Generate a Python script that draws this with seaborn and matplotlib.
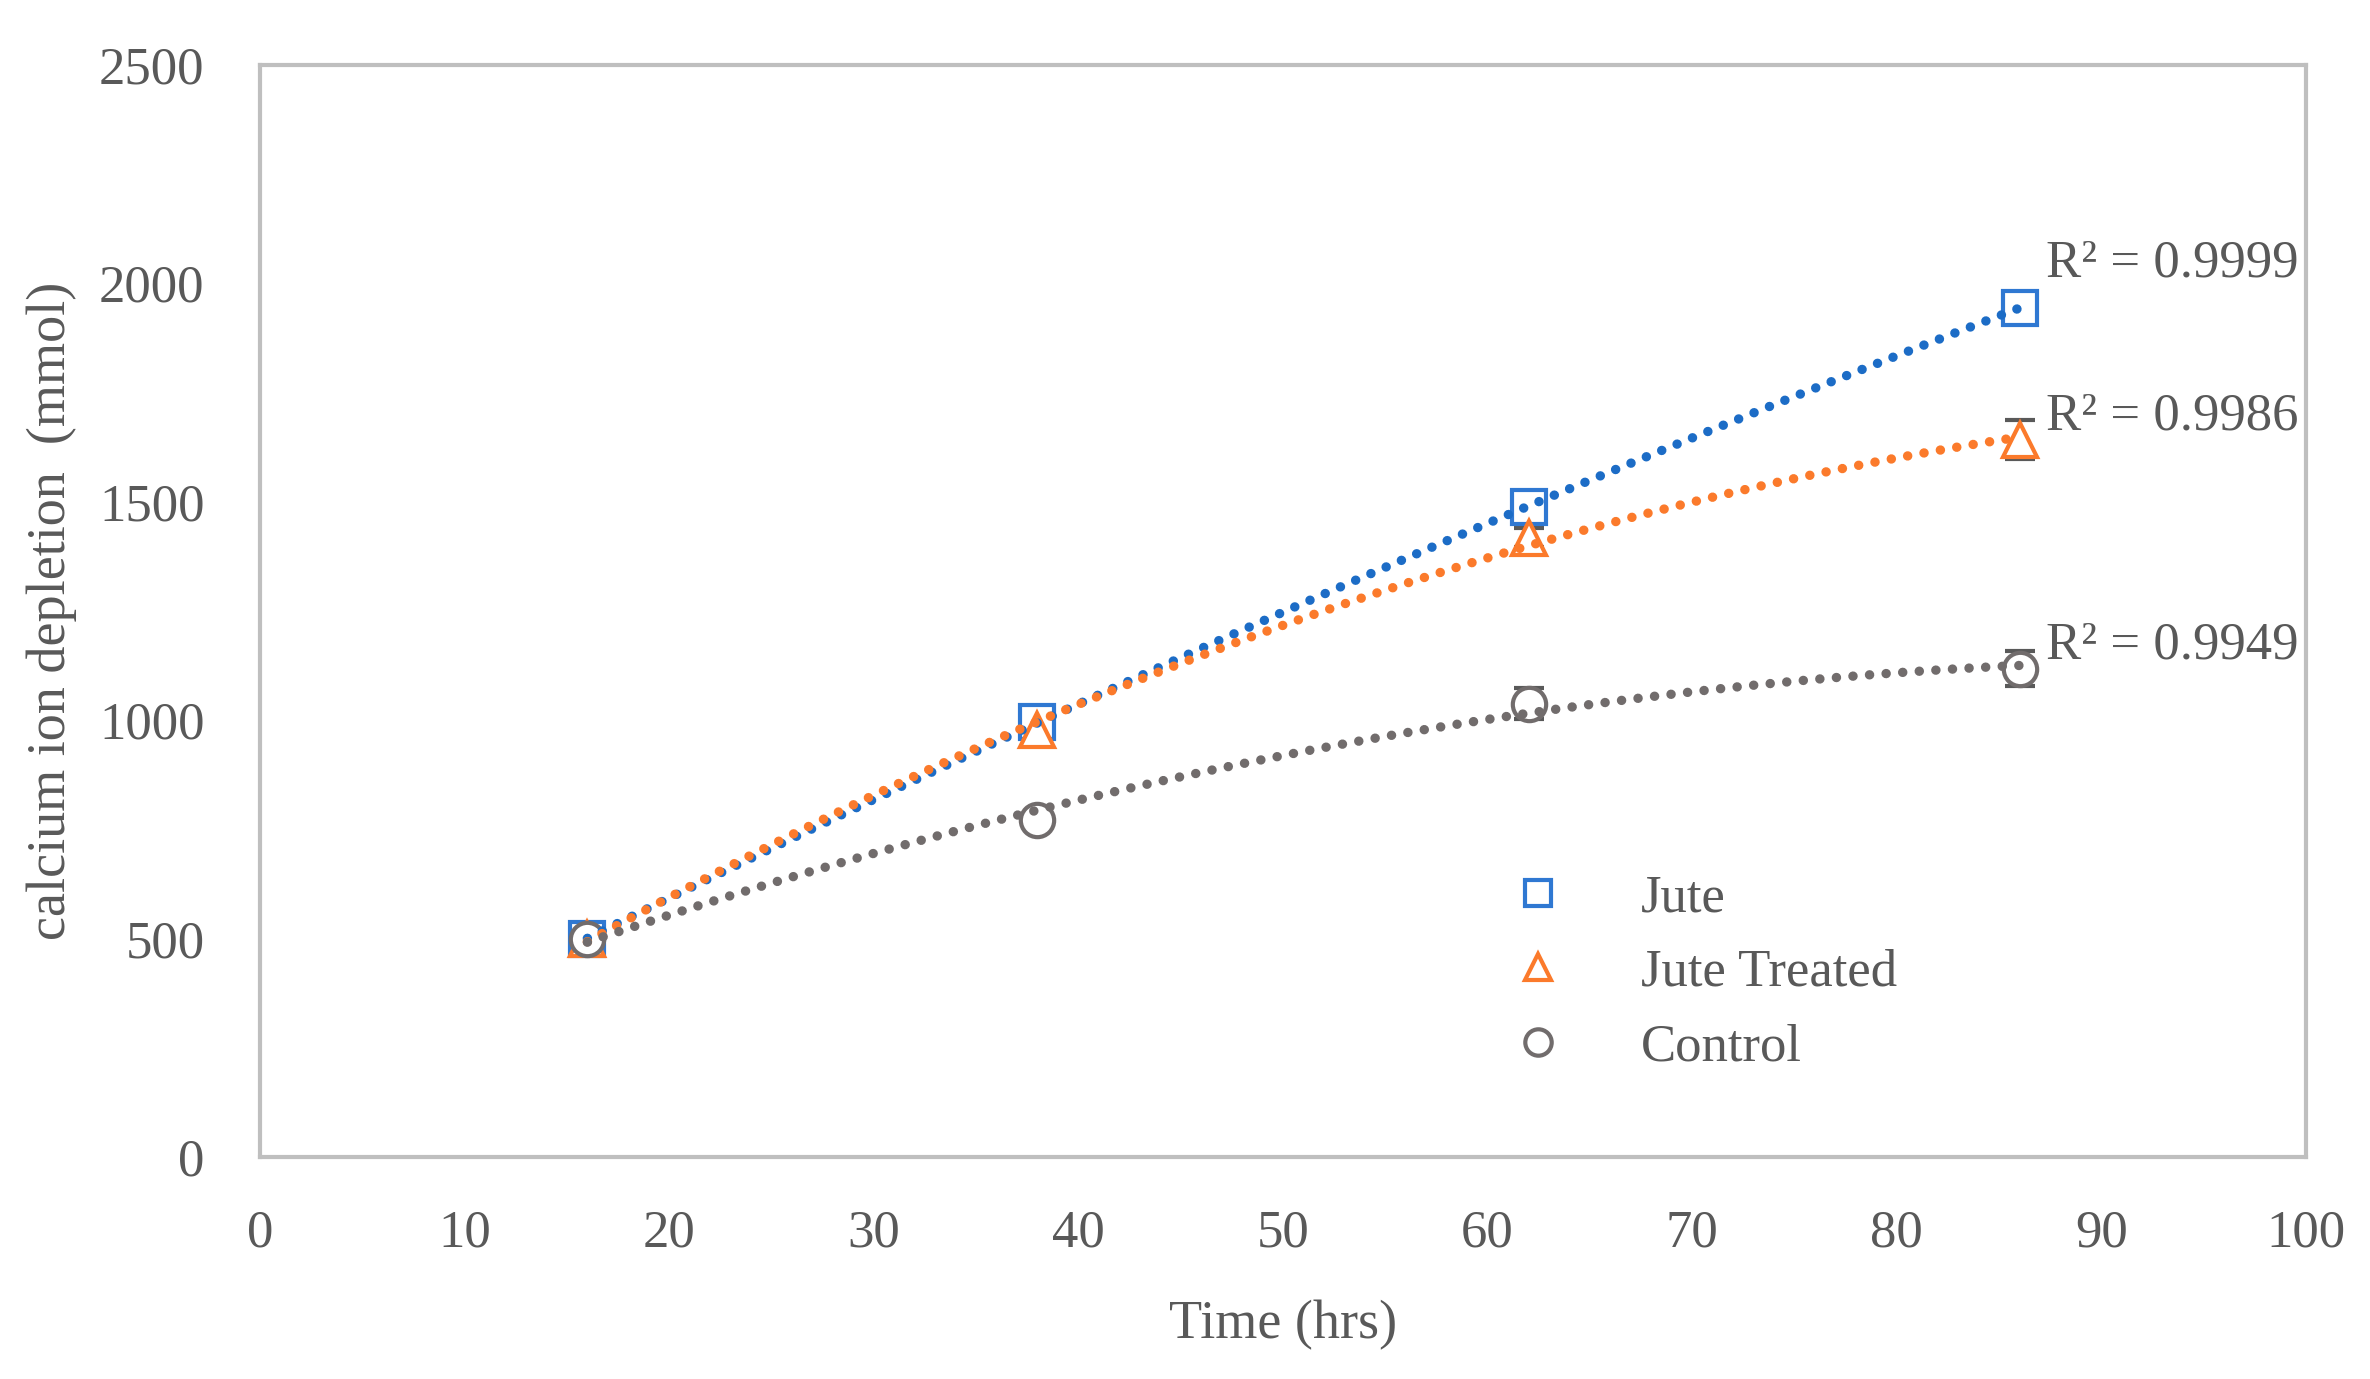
import matplotlib
matplotlib.use("Agg")
import matplotlib.pyplot as plt
from matplotlib.lines import Line2D
import seaborn as sns
import pandas as pd

# Data
time_hrs = [16, 38, 62, 86]
jute = [500, 995, 1489, 1944]
jute_treated = [500, 977, 1418, 1642]
control = [500, 771, 1038, 1118]

# small error bars (mostly hidden behind the markers)
jute_err = [0, 0, 0, 0]
jute_treated_err = [0, 0, 22, 45]
control_err = [0, 0, 35, 40]

series_names = ["Jute", "Jute Treated", "Control"]
r2_labels = ["R² = 0.9999", "R² = 0.9986", "R² = 0.9949"]

x_ticks = [0, 10, 20, 30, 40, 50, 60, 70, 80, 90, 100]
y_ticks = [0, 500, 1000, 1500, 2000, 2500]

df = pd.DataFrame({
    "Time": time_hrs * 3,
    "Depletion": jute + jute_treated + control,
    "Err": jute_err + jute_treated_err + control_err,
    "Series": [n for n in series_names for _ in time_hrs],
})

marker_colors = {"Jute": "#2F78D2", "Jute Treated": "#FB7A2B", "Control": "#716C6C"}
line_colors = {"Jute": "#1C6CC6", "Jute Treated": "#FB7A2B", "Control": "#716C6C"}
marker_shapes = {"Jute": "s", "Jute Treated": "^", "Control": "o"}
# label offsets (points) from the last point of each series
r2_offsets = [(19, 32), (19, 17), (19, 17)]

sns.set_theme(style="white")
plt.rcParams["font.family"] = ["Liberation Serif", "DejaVu Serif"]
text_color = "#595959"

fig = plt.figure(figsize=(23.7, 13.79), dpi=100)
ax = fig.add_axes([0.1097, 0.161, 0.8633, 0.7919])

for name in series_names:
    sub = df[df["Series"] == name]
    err = sub["Err"] if sub["Err"].any() else None
    ax.errorbar(
        sub["Time"], sub["Depletion"], yerr=err,
        fmt=marker_shapes[name], ms=24, mew=3, mfc="white",
        mec=marker_colors[name], ecolor=text_color, elinewidth=3,
        capsize=11, capthick=3, zorder=3
    )
    # 2nd order polynomial trend line, as in the original
    sns.regplot(
        data=sub, x="Time", y="Depletion", order=2, ci=None,
        scatter=False, truncate=True, ax=ax,
        line_kws={"color": line_colors[name], "lw": 6.8,
                  "linestyle": (0, (0.01, 1.75)),
                  "dash_capstyle": "round", "zorder": 4}
    )

# R squared labels
for name, label, off in zip(series_names, r2_labels, r2_offsets):
    sub = df[df["Series"] == name]
    ax.annotate(label, xy=(sub["Time"].iloc[-1], sub["Depletion"].iloc[-1]),
                xytext=off, textcoords="offset points",
                ha="left", va="center", fontsize=38, color=text_color)

ax.set_xlim(0, 100)
ax.set_ylim(0, 2500)
ax.set_xticks(x_ticks)
ax.set_yticks(y_ticks)
ax.tick_params(axis="both", length=0, labelsize=38, labelcolor=text_color)
ax.tick_params(axis="y", pad=40)
ax.tick_params(axis="x", pad=38)
ax.set_xlabel("Time (hrs)", fontsize=39, color=text_color, labelpad=30)
ax.set_ylabel("calcium ion depletion  (mmol)", fontsize=39, color=text_color, labelpad=16)
ax.grid(False)
for sp in ax.spines.values():
    sp.set_visible(True)
    sp.set_color("#BFBFBF")
    sp.set_linewidth(3)

handles = [
    Line2D([], [], linestyle="none", marker=marker_shapes[n], ms=19, mew=3,
           mfc="none", mec=marker_colors[n])
    for n in series_names
]
ax.legend(handles, series_names, loc="upper left", bbox_to_anchor=(0.599, 0.283),
          frameon=False, fontsize=38, labelcolor=text_color, handlelength=1.0,
          handletextpad=1.45, labelspacing=0.5, borderpad=0)

fig.savefig("out.png", dpi=100)
